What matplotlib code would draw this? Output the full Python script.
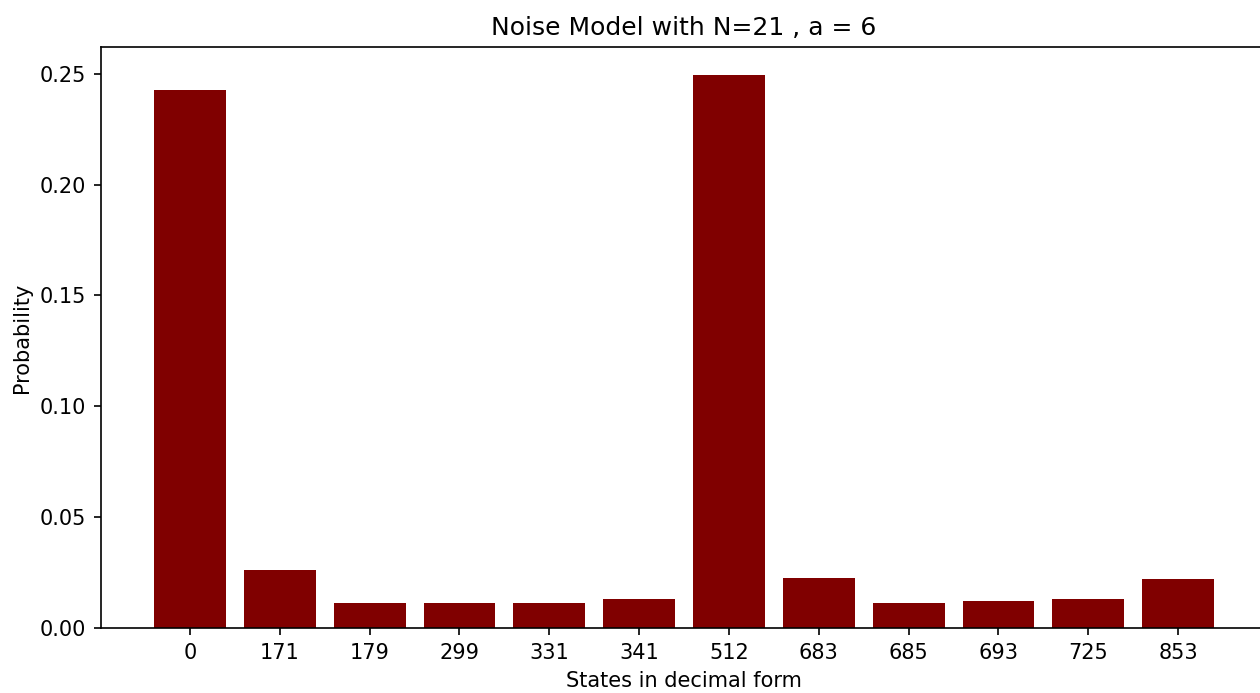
import numpy as np
import matplotlib
matplotlib.use("Agg")
import matplotlib.pyplot as plt

# measured outcomes of the noisy run
states = ["0", "171", "179", "299", "331", "341", "512", "683", "685", "693", "725", "853"]
probs = [0.2425, 0.0260, 0.0112, 0.0112, 0.0112, 0.0132,
         0.2494, 0.0226, 0.0112, 0.0124, 0.0132, 0.0220]

fig = plt.figure(figsize=(8.4, 4.62), dpi=150)
ax = fig.add_axes([0.0802, 0.0938, 0.9254, 0.8377])
ax.bar(states, probs, color='maroon', width=0.8)
ax.set_xlabel("States in decimal form")
ax.set_ylabel("Probability")
ax.set_title("Noise Model with N=21 , a = 6")
fig.savefig("out.png", dpi=150)
